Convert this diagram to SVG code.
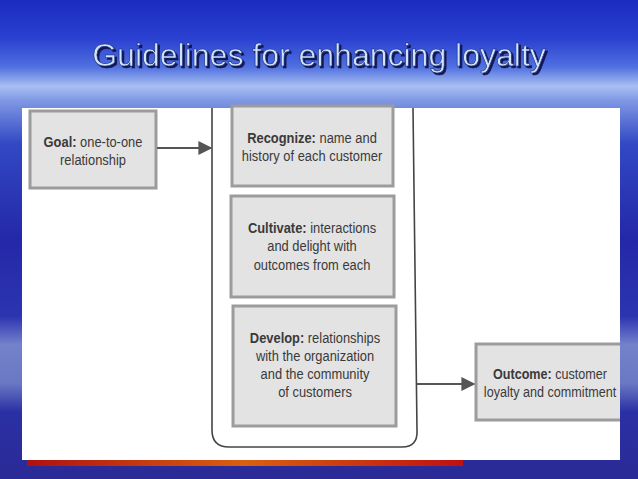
<svg xmlns="http://www.w3.org/2000/svg" width="638" height="479" viewBox="0 0 638 479">
  <defs>
    <linearGradient id="sky" gradientUnits="userSpaceOnUse" x1="0" y1="0" x2="0" y2="479">
      <stop offset="0" stop-color="#1a2cc0"/>
      <stop offset="0.08" stop-color="#2a40d0"/>
      <stop offset="0.14" stop-color="#5070e0"/>
      <stop offset="0.18" stop-color="#a8bff2"/>
      <stop offset="0.21" stop-color="#7f98e4"/>
      <stop offset="0.30" stop-color="#3248c4"/>
      <stop offset="0.50" stop-color="#2428a8"/>
      <stop offset="0.66" stop-color="#2c34b0"/>
      <stop offset="0.72" stop-color="#7482cc"/>
      <stop offset="0.80" stop-color="#6a78c4"/>
      <stop offset="0.86" stop-color="#2a30a4"/>
      <stop offset="1" stop-color="#2a2a96"/>
    </linearGradient>
    <linearGradient id="bar" x1="0" y1="0" x2="1" y2="0">
      <stop offset="0" stop-color="#b01010"/>
      <stop offset="0.5" stop-color="#d86010"/>
      <stop offset="1" stop-color="#c01010"/>
    </linearGradient>
    <marker id="arrow" viewBox="0 0 10 10" refX="9" refY="5" markerWidth="14" markerHeight="15" markerUnits="userSpaceOnUse" orient="auto">
      <path d="M0,0 L10,5 L0,10 z" fill="#555"/>
    </marker>
    <filter id="shadow" x="-5%" y="-20%" width="110%" height="150%">
      <feDropShadow dx="2" dy="2" stdDeviation="0.6" flood-color="#0a1040" flood-opacity="0.9"/>
    </filter>
  </defs>
  <style>
    .box { fill: #e3e3e3; stroke: #9c9c9c; stroke-width: 3; }
    .t { font-family: "Liberation Sans", Arial, sans-serif; font-size: 15px; fill: #3a3a3a; text-anchor: middle; }
    .b { font-weight: bold; }
    .conn { stroke: #555; stroke-width: 2; fill: none; }
  </style>

  <rect x="0" y="0" width="638" height="479" fill="url(#sky)"/>
  <text x="319" y="66" font-family="Liberation Sans, Arial, sans-serif" font-size="32" fill="#cfe4ff" stroke="#1a2a70" stroke-width="0.6" text-anchor="middle" filter="url(#shadow)">Guidelines for enhancing loyalty</text>

  <rect x="27" y="459" width="436" height="7" fill="url(#bar)"/>
  <rect x="22" y="108" width="598" height="352" fill="#ffffff"/>

  <g id="container">
    <path d="M212,108 L212,430 Q212,447 229,447 L402,447 Q418,447 417,430 L413,108" fill="none" stroke="#444" stroke-width="1.6"/>
  </g>

  <g id="goal">
    <rect class="box" x="30" y="111" width="126" height="77"/>
    <g transform="translate(93,0) scale(0.86,1)">
      <text class="t" x="0" y="147"><tspan class="b">Goal:</tspan> one-to-one</text>
      <text class="t" x="0" y="165">relationship</text>
    </g>
  </g>

  <g id="recognize">
    <rect class="box" x="232" y="106" width="161" height="80"/>
    <g transform="translate(312,0) scale(0.86,1)">
      <text class="t" x="0" y="143"><tspan class="b">Recognize:</tspan> name and</text>
      <text class="t" x="0" y="161">history of each customer</text>
    </g>
  </g>

  <g id="cultivate">
    <rect class="box" x="231" y="196" width="163" height="101"/>
    <g transform="translate(312,0) scale(0.86,1)">
      <text class="t" x="0" y="233"><tspan class="b">Cultivate:</tspan> interactions</text>
      <text class="t" x="0" y="251">and delight with</text>
      <text class="t" x="0" y="270">outcomes from each</text>
    </g>
  </g>

  <g id="develop">
    <rect class="box" x="233" y="306" width="163" height="120"/>
    <g transform="translate(315,0) scale(0.86,1)">
      <text class="t" x="0" y="343"><tspan class="b">Develop:</tspan> relationships</text>
      <text class="t" x="0" y="361">with the organization</text>
      <text class="t" x="0" y="379">and the community</text>
      <text class="t" x="0" y="397">of customers</text>
    </g>
  </g>

  <g id="outcome">
    <rect class="box" x="476" y="344" width="150" height="76"/>
    <g transform="translate(550,0) scale(0.84,1)">
      <text class="t" x="0" y="379"><tspan class="b">Outcome:</tspan> customer</text>
      <text class="t" x="0" y="397">loyalty and commitment</text>
    </g>
  </g>

  <rect x="620" y="108" width="18" height="371" fill="url(#sky)"/>

  <g id="connectors">
    <line class="conn" x1="157" y1="148" x2="211" y2="148" marker-end="url(#arrow)"/>
    <line class="conn" x1="417" y1="384" x2="474" y2="384" marker-end="url(#arrow)"/>
  </g>
</svg>
